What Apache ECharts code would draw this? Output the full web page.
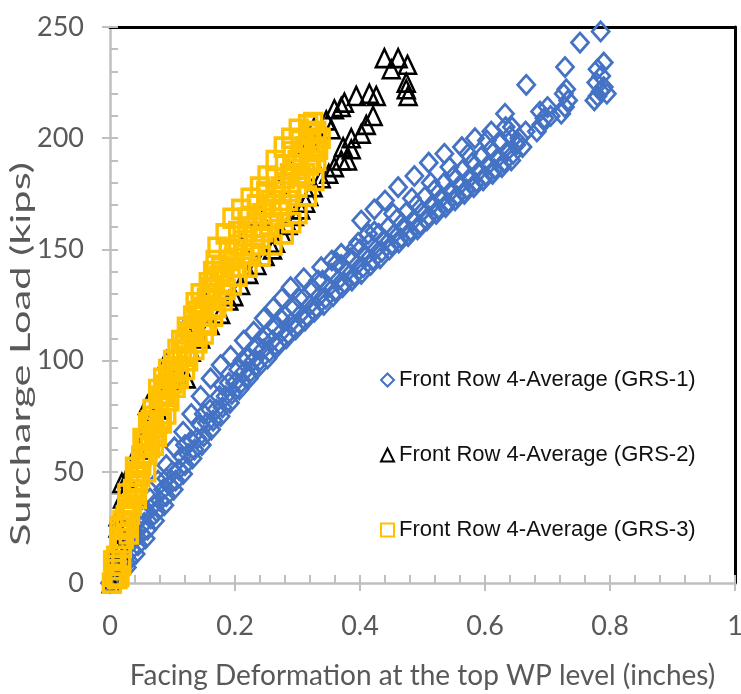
<!DOCTYPE html>
<html>
<head>
<meta charset="utf-8">
<script src="https://cdn.jsdelivr.net/npm/echarts@6/dist/echarts.min.js"></script>
<style>
html,body{margin:0;padding:0;background:#fff;}
#chart{width:741px;height:694px;}
</style>
</head>
<body>
<div id="chart"></div>
<script>
// ---- axis ticks ----
const xTicks = [0, 0.2, 0.4, 0.6, 0.8, 1];
const yTicks = [0, 50, 100, 150, 200, 250];

// ---- texts ----
const seriesNames = [
  'Front Row 4-Average (GRS-1)',
  'Front Row 4-Average (GRS-2)',
  'Front Row 4-Average (GRS-3)'
];
const xTitle = 'Facing Deformation at the top WP level (inches)';
const yTitle = 'Surcharge Load (kips)';

// ---- GRS-1 (blue diamonds): [deformation (in), load (kips)] ----
const grs1Upper = [
  [0.02,14],[0.035,22],[0.05,31],[0.064,38],[0.077,46],[0.09,53],[0.103,61],[0.117,68],[0.13,76],
  [0.145,84],[0.161,92],[0.177,98],[0.193,102],[0.214,109],[0.23,113],[0.246,119],[0.262,124],
  [0.275,128],[0.289,133],[0.31,137],[0.338,142],[0.355,145],[0.37,148],[0.397,153],[0.413,157],
  [0.402,163],[0.423,168],[0.44,172],[0.461,178],[0.487,183],[0.51,189],[0.535,193],[0.563,196],
  [0.584,200],[0.61,203],[0.632,211],[0.643,205]
];
const grs1UpperMid = [
  [0.03,17],[0.06,32],[0.09,47],[0.12,62],[0.15,76],[0.18,89],[0.212,100],[0.243,110],[0.273,119],
  [0.303,128],[0.333,136],[0.363,144],[0.393,151],[0.423,158],[0.453,166],[0.483,173],[0.513,180],
  [0.543,187],[0.573,193],[0.603,199],[0.633,205]
];
const grs1Middle = [
  [0.01,5],[0.025,12],[0.04,20],[0.055,27],[0.07,35],[0.085,42],[0.1,50],[0.115,57],[0.13,64],
  [0.145,71],[0.16,78],[0.175,84],[0.19,90],[0.205,96],[0.22,101],[0.235,106],[0.25,111],[0.265,115],
  [0.28,120],[0.295,124],[0.31,128],[0.325,132],[0.34,136],[0.355,139],[0.37,143],[0.385,146],
  [0.4,150],[0.415,153],[0.43,157],[0.445,160],[0.46,164],[0.475,167],[0.49,170],[0.505,174],
  [0.52,177],[0.535,180],[0.55,183],[0.565,186],[0.58,189],[0.595,192],[0.61,195],[0.625,198],[0.64,201]
];
const grs1LowerMid = [
  [0.008,3],[0.022,8],[0.035,15],[0.05,22],[0.065,29],[0.08,37],[0.095,44],[0.11,51],[0.125,58],
  [0.14,65],[0.155,72],[0.17,78],[0.185,84],[0.2,90],[0.215,95],[0.23,100],[0.245,105],[0.26,109],
  [0.275,113],[0.29,117],[0.305,121],[0.32,125],[0.335,129],[0.35,133],[0.365,136],[0.38,140],
  [0.395,143],[0.41,147],[0.425,150],[0.44,154],[0.455,157],[0.47,160],[0.485,163],[0.5,167],
  [0.515,170],[0.53,173],[0.545,176],[0.56,179],[0.575,182],[0.59,185],[0.605,188],[0.62,191],
  [0.635,194],[0.65,197]
];
const grs1LowerFill = [
  [0.013,2],[0.027,7],[0.041,13],[0.057,20],[0.072,28],[0.087,35],[0.102,42],[0.117,49],[0.132,56],
  [0.147,62],[0.162,69],[0.177,75],[0.192,81],[0.207,87],[0.222,92],[0.237,97],[0.252,101],[0.267,106],
  [0.282,110],[0.297,114],[0.312,118],[0.327,122],[0.342,125],[0.357,129],[0.372,133],[0.387,136],
  [0.402,139],[0.417,143],[0.432,146],[0.447,150],[0.462,153],[0.477,156],[0.492,159],[0.507,163],
  [0.522,166],[0.537,169],[0.552,172],[0.567,175],[0.582,178],[0.597,181],[0.612,184],[0.627,187],[0.642,190]
];
const grs1Lower = [
  [0,0],[0.005,1],[0.018,5],[0.03,10],[0.045,17],[0.06,24],[0.075,32],[0.09,39],[0.105,46],[0.12,53],
  [0.135,60],[0.15,66],[0.165,73],[0.18,79],[0.195,85],[0.21,90],[0.225,95],[0.24,100],[0.255,104],
  [0.27,108],[0.285,112],[0.3,116],[0.315,120],[0.33,124],[0.345,128],[0.36,131],[0.375,135],
  [0.39,138],[0.405,142],[0.42,145],[0.435,149],[0.45,152],[0.465,155],[0.48,158],[0.495,161],
  [0.51,165],[0.525,168],[0.54,171],[0.555,174],[0.57,177],[0.585,180],[0.6,183],[0.615,186],
  [0.63,189],[0.645,193]
];
const grs1Top = [
  [0.66,196],[0.655,200],[0.665,203],[0.666,224],[0.683,203],[0.69,206],[0.695,209],[0.688,212],
  [0.7,214],[0.705,210],[0.722,211],[0.728,214],[0.733,217],[0.726,220],[0.73,222],[0.728,232],
  [0.752,243],[0.775,217],[0.78,219],[0.785,221],[0.79,223],[0.778,225],[0.786,228],[0.78,231],
  [0.79,234],[0.785,248],[0.795,220]
];

// ---- GRS-2 (black triangles) ----
const grs2Points = [
  [0.002,0],[0.005,3],[0.008,9],[0.012,15],[0.016,18],[0.013,25],[0.013,30],[0.02,38],[0.019,45],
  [0.028,47],[0.035,52],[0.045,60],[0.055,66],[0.065,72],[0.075,78],[0.085,84],[0.096,90],[0.108,94],
  [0.122,92],[0.13,104],[0.145,110],[0.16,116],[0.177,121],[0.19,127],[0.198,129],[0.209,134],
  [0.222,139],[0.235,143],[0.248,147],[0.26,150],[0.265,153],[0.275,157],[0.285,161],[0.295,165],
  [0.305,168],[0.313,171],[0.318,174],[0.325,178],[0.338,182],[0.35,184],[0.359,187],[0.37,190],
  [0.38,190],[0.373,196],[0.386,195],[0.386,200],[0.402,202],[0.41,206],[0.421,210],[0.327,205],
  [0.346,208],[0.354,204],[0.359,213],[0.37,214],[0.375,216],[0.394,219],[0.415,220],[0.426,219],
  [0.439,236],[0.461,236],[0.476,233],[0.45,231],[0.474,225],[0.477,219],[0.474,222],
  [0.06,80],[0.09,100],[0.12,115],[0.15,128],[0.18,140],[0.21,152],[0.24,165],[0.27,178],[0.3,190],[0.32,198]
];

// ---- GRS-3 (yellow squares) ----
const grs3Left = [
  [0.003,0],[0.006,6],[0.01,12],[0.015,20],[0.02,28],[0.028,35],[0.037,42],[0.045,50],[0.05,57],
  [0.056,64],[0.061,72],[0.068,78],[0.077,87],[0.085,92],[0.093,96],[0.101,100],[0.108,105],
  [0.114,109],[0.123,115],[0.133,120],[0.137,126],[0.145,130],[0.158,135],[0.165,140],[0.169,145],
  [0.172,151],[0.185,157],[0.196,164],[0.21,168],[0.225,173],[0.24,178],[0.252,183],[0.265,190],
  [0.278,196],[0.29,200],[0.302,204],[0.317,206],[0.325,207]
];
const grs3LeftMid = [
  [0.008,3],[0.018,18],[0.03,33],[0.045,45],[0.058,62],[0.07,75],[0.082,84],[0.095,93],[0.108,100],
  [0.12,108],[0.135,116],[0.15,124],[0.163,133],[0.178,142],[0.19,150],[0.205,158],[0.22,164],
  [0.235,170],[0.25,176],[0.265,182],[0.28,188],[0.292,194],[0.305,199],[0.318,203]
];
const grs3Fill1 = [
  [0.005,10],[0.015,25],[0.028,40],[0.04,52],[0.052,65],[0.065,73],[0.078,80],[0.09,89],[0.102,97],
  [0.115,105],[0.128,113],[0.14,122],[0.155,128],[0.168,136],[0.183,140],[0.198,146],[0.213,154],
  [0.228,160],[0.243,166],[0.258,172],[0.273,178],[0.288,184],[0.3,190],[0.312,196],[0.322,202]
];
const grs3Middle = [
  [0.01,8],[0.025,30],[0.04,40],[0.055,58],[0.07,70],[0.085,85],[0.1,95],[0.115,102],[0.13,112],
  [0.145,120],[0.16,130],[0.175,138],[0.19,145],[0.205,152],[0.22,158],[0.235,164],[0.25,170],
  [0.265,176],[0.28,182],[0.295,188],[0.31,194],[0.32,198],[0.33,203]
];
const grs3Fill2 = [
  [0.018,8],[0.03,22],[0.043,38],[0.058,50],[0.07,62],[0.083,72],[0.095,82],[0.11,92],[0.125,100],
  [0.14,108],[0.155,116],[0.17,124],[0.185,132],[0.2,142],[0.215,148],[0.23,152],[0.245,158],
  [0.26,164],[0.275,170],[0.29,176],[0.305,183],[0.318,188],[0.326,194],[0.332,200]
];
const grs3RightMid = [
  [0.012,2],[0.022,20],[0.035,35],[0.048,48],[0.06,58],[0.075,66],[0.09,76],[0.105,88],[0.12,96],
  [0.135,105],[0.15,112],[0.165,120],[0.18,127],[0.195,134],[0.21,142],[0.225,148],[0.24,155],
  [0.255,161],[0.27,167],[0.285,172],[0.3,178],[0.312,184],[0.322,190],[0.33,196]
];
const grs3Right = [
  [0.015,3],[0.019,16],[0.026,25],[0.032,31],[0.04,46],[0.05,53],[0.064,61],[0.072,68],[0.079,73],
  [0.09,82],[0.1,90],[0.11,97],[0.122,104],[0.135,111],[0.148,117],[0.164,123],[0.18,130],
  [0.204,138],[0.22,142],[0.241,147],[0.26,152],[0.278,157],[0.29,162],[0.3,166],[0.315,174],
  [0.327,181],[0.33,190],[0.337,200],[0.333,195]
];

const grs1Points = grs1Lower.concat(grs1LowerFill, grs1LowerMid, grs1Middle, grs1UpperMid, grs1Upper, grs1Top);
const grs3Points = grs3Right.concat(grs3RightMid, grs3Fill2, grs3Middle, grs3Fill1, grs3LeftMid, grs3Left);

const labelFont = 'Lato, "Open Sans", sans-serif';
const legendFont = '"Liberation Sans", Arial, sans-serif';
const gray = '#595959';
const axisGray = '#bfbfbf';

const chart = echarts.init(document.getElementById('chart'), null, {renderer: 'canvas'});

const xMin = xTicks[0], xMax = xTicks[xTicks.length - 1], xInt = xTicks[1] - xTicks[0];
const yMin = yTicks[0], yMax = yTicks[yTicks.length - 1], yInt = yTicks[1] - yTicks[0];

chart.setOption({
  animation: false,
  backgroundColor: '#fff',
  grid: {left: 110, right: 6, top: 27, bottom: 111, containLabel: false, outerBoundsMode: 'none'},
  legend: {
    orient: 'vertical',
    left: 375,
    top: 362,
    itemGap: 49,
    itemWidth: 13,
    itemHeight: 13,
    textStyle: {fontFamily: legendFont, fontSize: 22, color: '#111', lineHeight: 26},
    data: seriesNames
  },
  graphic: [{
    type: 'text',
    x: 22, y: 354,
    rotation: Math.PI / 2,
    scaleX: 1.6,
    style: {text: yTitle, font: '26px Lato, "Open Sans", sans-serif', fill: gray, align: 'center', verticalAlign: 'middle'}
  }],
  xAxis: [
    {
      type: 'value', min: xMin, max: xMax, interval: xInt, position: 'bottom',
      axisLine: {onZero: false, lineStyle: {color: axisGray, width: 2.5}},
      axisTick: {inside: true, length: 8, lineStyle: {color: axisGray, width: 2}},
      minorTick: {show: true, splitNumber: 5, length: 8, lineStyle: {color: axisGray, width: 2}},
      splitLine: {show: false},
      axisLabel: {fontFamily: labelFont, fontSize: 27, color: gray, margin: 30},
      name: xTitle,
      nameLocation: 'middle', nameGap: 79,
      nameTextStyle: {fontFamily: labelFont, fontSize: 28, color: gray}
    },
    {
      type: 'value', min: xMin, max: xMax, interval: xInt, position: 'bottom',
      axisLine: {show: false, onZero: false},
      axisTick: {inside: false, length: 8, lineStyle: {color: axisGray, width: 2}},
      axisLabel: {show: false}, splitLine: {show: false}
    },
    {
      type: 'value', min: xMin, max: xMax, interval: xInt, position: 'top',
      axisLine: {onZero: false, lineStyle: {color: '#000', width: 3}},
      axisTick: {show: false}, axisLabel: {show: false}, splitLine: {show: false}
    }
  ],
  yAxis: [
    {
      type: 'value', min: yMin, max: yMax, interval: yInt, position: 'left',
      axisLine: {show: true, onZero: false, lineStyle: {color: axisGray, width: 2.5}},
      axisTick: {show: true, inside: true, length: 8, lineStyle: {color: axisGray, width: 2}},
      minorTick: {show: true, splitNumber: 5, length: 8, lineStyle: {color: axisGray, width: 2}},
      splitLine: {show: false},
      axisLabel: {fontFamily: labelFont, fontSize: 27, color: gray, margin: 26}
    },
    {
      type: 'value', min: yMin, max: yMax, interval: yInt, position: 'left',
      axisLine: {show: false, onZero: false},
      axisTick: {show: true, inside: false, length: 8, lineStyle: {color: axisGray, width: 2}},
      axisLabel: {show: false}, splitLine: {show: false}
    },
    {
      type: 'value', min: yMin, max: yMax, interval: yInt, position: 'right',
      axisLine: {show: true, onZero: false, lineStyle: {color: '#000', width: 3}},
      axisTick: {show: false}, axisLabel: {show: false}, splitLine: {show: false}
    }
  ],
  series: [
    {
      name: seriesNames[0], type: 'scatter', xAxisIndex: 0, yAxisIndex: 0,
      symbol: 'diamond', symbolSize: [17, 19],
      itemStyle: {color: 'rgba(255,255,255,0)', borderColor: '#4472C4', borderWidth: 2.8, opacity: 1},
      data: grs1Points
    },
    {
      name: seriesNames[1], type: 'scatter', xAxisIndex: 0, yAxisIndex: 0,
      symbol: 'triangle', symbolSize: [17, 18],
      itemStyle: {color: 'rgba(255,255,255,0)', borderColor: '#000000', borderWidth: 2.5, opacity: 1},
      data: grs2Points
    },
    {
      name: seriesNames[2], type: 'scatter', xAxisIndex: 0, yAxisIndex: 0,
      symbol: 'rect', symbolSize: [17, 18],
      itemStyle: {color: 'rgba(255,255,255,0)', borderColor: '#FFC000', borderWidth: 3.5, opacity: 1},
      data: grs3Points
    }
  ]
});
</script>
</body>
</html>
